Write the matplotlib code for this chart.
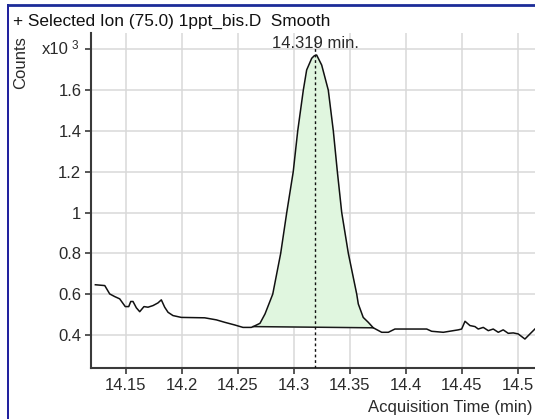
import numpy as np
import matplotlib
matplotlib.use("Agg")
import matplotlib.pyplot as plt
from matplotlib.lines import Line2D

plt.rcParams['font.family'] = ['Liberation Sans', 'DejaVu Sans']

# Extracted ion chromatogram, m/z 75.0 (counts in units of 10^3)
time_min = [
    14.1229, 14.1313, 14.1357, 14.1402, 14.1446, 14.1496, 14.1527, 14.1545,
    14.1565, 14.1595, 14.1625, 14.1663, 14.1699, 14.1744, 14.1788, 14.1818,
    14.1848, 14.1878, 14.1922, 14.1996, 14.2205, 14.2309, 14.2384, 14.2473,
    14.2547, 14.2621, 14.2639, 14.2699, 14.2744, 14.2813, 14.2884, 14.2938,
    14.2996, 14.3036, 14.3086, 14.3116, 14.3161, 14.3183, 14.3205, 14.3250,
    14.3309, 14.3354, 14.3390, 14.3429, 14.3488, 14.3563, 14.3577, 14.3621,
    14.3666, 14.3711, 14.3786, 14.3845, 14.3904,
    14.4188, 14.4232, 14.4336, 14.4470, 14.4500, 14.4530, 14.4574, 14.4619,
    14.4648, 14.4693, 14.4738, 14.4782, 14.4827, 14.4871, 14.4916, 14.4961,
    14.5005, 14.5065, 14.5110, 14.5154,
]
counts_k = [
    0.646, 0.642, 0.601, 0.588, 0.577, 0.539, 0.539, 0.564,
    0.564, 0.533, 0.514, 0.539, 0.536, 0.544, 0.557, 0.572,
    0.536, 0.511, 0.495, 0.486, 0.484, 0.474, 0.462, 0.449,
    0.437, 0.437, 0.441, 0.457, 0.503, 0.600, 0.800, 1.000,
    1.200, 1.400, 1.600, 1.699, 1.756, 1.768, 1.772, 1.723,
    1.600, 1.400, 1.200, 1.000, 0.800, 0.600, 0.552, 0.486,
    0.462, 0.435, 0.413, 0.413, 0.429,
    0.429, 0.418, 0.413, 0.425, 0.429, 0.467, 0.446, 0.441,
    0.429, 0.437, 0.421, 0.429, 0.413, 0.425, 0.408, 0.410,
    0.405, 0.380, 0.405, 0.429,
]

# Integration window and retention time
peak_start = 14.2639
peak_end = 14.3711
retention_time = 14.319

x_ticks = [14.15, 14.2, 14.25, 14.3, 14.35, 14.4, 14.45, 14.5]
x_tick_labels = ['14.15', '14.2', '14.25', '14.3', '14.35', '14.4', '14.45', '14.5']
y_ticks = [0.4, 0.6, 0.8, 1.0, 1.2, 1.4, 1.6, 1.8]
y_tick_labels = ['0.4', '0.6', '0.8', '1', '1.2', '1.4', '1.6', '']

title_text = '+ Selected Ion (75.0) 1ppt_bis.D  Smooth'
x_label = 'Acquisition Time (min)'
y_label = 'Counts'

t = np.array(time_min)
c = np.array(counts_k)

W, H = 535, 419
fig = plt.figure(figsize=(W / 100, H / 100), dpi=100)
ax = fig.add_axes([91 / W, (H - 368) / H, (W - 91) / W, (368 - 33) / H])

text_col = '#2a2a2a'
spine_col = '#3a3a3a'

# Peak area above the straight integration baseline
i0 = int(np.argmin(np.abs(t - peak_start)))
i1 = int(np.argmin(np.abs(t - peak_end)))
seg_t = t[i0:i1 + 1]
seg_c = c[i0:i1 + 1]
base_c = c[i0] + (c[i1] - c[i0]) * (seg_t - t[i0]) / (t[i1] - t[i0])
ax.fill_between(seg_t, base_c, seg_c, color='#e0f6df', linewidth=0, zorder=2)
ax.plot([t[i0], t[i1]], [c[i0], c[i1]], color='#1a1a1a', lw=1.1, zorder=3)

# Chromatogram trace
ax.plot(t, c, color='#111111', lw=1.1, zorder=4)

ax.set_xlim(14.119, 14.5155)
ax.set_ylim(0.238, 1.88)

# Retention-time marker
ax.vlines(retention_time, 0.238, 1.87, colors='#111111', linestyles=(0, (2, 2)),
          lw=1.0, zorder=5)
ax.annotate(f'{retention_time:.3f} min.', xy=(retention_time, 1.83),
            xytext=(0, 0), textcoords='offset points',
            ha='center', va='center', fontsize=12, color=text_col, zorder=6)

ax.set_xticks(x_ticks)
ax.set_xticklabels(x_tick_labels)
ax.set_yticks(y_ticks)
ax.set_yticklabels(y_tick_labels)
ax.tick_params(axis='both', direction='out', length=4, width=1.2, color=spine_col,
               labelsize=12, labelcolor=text_col, pad=3)

ax.grid(True, color='#d9d9d9', lw=1.1, zorder=0)
ax.set_axisbelow(True)
for side in ('top', 'right'):
    ax.spines[side].set_visible(False)
for side in ('left', 'bottom'):
    ax.spines[side].set_color(spine_col)
    ax.spines[side].set_linewidth(1.5)

# Axis labels and multiplier
fig.text(532 / W, 1 - 407 / H, x_label, ha='right', va='center', fontsize=12, color=text_col)
fig.text(21 / W, 1 - 63 / H, y_label, ha='center', va='center', rotation=90,
         fontsize=12, color=text_col)
fig.text(69 / W, 1 - 49 / H, 'x10', ha='right', va='center', fontsize=12, color=text_col)
fig.text(72 / W, 1 - 46 / H, '3', ha='left', va='center', fontsize=8.5, color=text_col)

fig.text(13 / W, 1 - 21 / H, title_text, ha='left', va='center', fontsize=12.4, color='#111111')

# Panel frame
fig.add_artist(Line2D([8 / W, 8 / W], [0, 1 - 5 / H], color='#1c1c9c', lw=1.4))
fig.add_artist(Line2D([8 / W, 1], [1 - 5 / H, 1 - 5 / H], color='#1c2c98', lw=2.0))

fig.savefig('out.png', dpi=100, facecolor='white')
